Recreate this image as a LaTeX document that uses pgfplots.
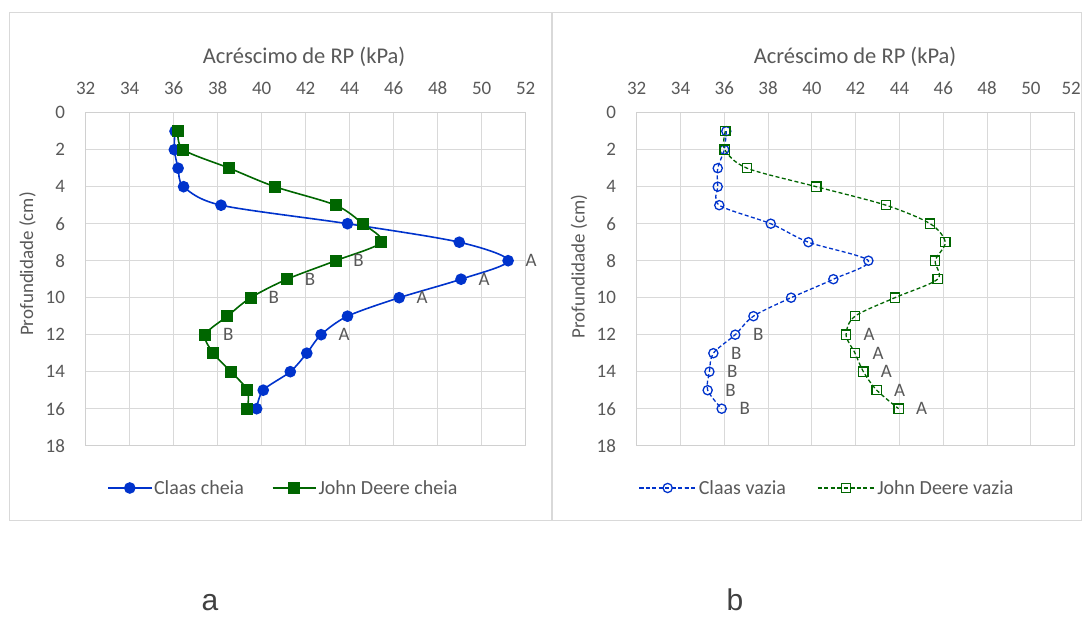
\documentclass[border=0pt]{standalone}
\usepackage{fontspec}
\setmainfont{Carlito}
\newfontfamily\arialf{Liberation Sans}
\usepackage{pgfplots}
\pgfplotsset{compat=1.18}
\definecolor{cblue}{HTML}{0033CC}
\definecolor{cgreen}{HTML}{006600}
\definecolor{gridgray}{HTML}{D9D9D9}
\definecolor{axgray}{HTML}{D0D0D0}
\definecolor{framegray}{HTML}{D9D9D9}
\definecolor{txtgray}{HTML}{595959}
\definecolor{capgray}{HTML}{404040}
\tikzset{lab/.style={font=\fontsize{19}{22}\selectfont, text=txtgray, anchor=center, xshift=23pt}}
\pgfplotsset{
  common/.style={
    anchor=south west, scale only axis, height=333pt,
    xmin=32, xmax=52, ymin=0, ymax=18, y dir=reverse,
    xtick={32,34,...,52}, ytick={0,2,...,18},
    xticklabel pos=upper,
    grid=major, major grid style={draw=gridgray, line width=1pt},
    axis line style={draw=axgray, line width=1pt},
    major tick length=0pt, tick style={draw=none},
    tick label style={font=\fontsize{19}{22}\selectfont, text=txtgray, inner sep=0pt},
    xticklabel style={anchor=center, yshift=24.7pt},
    yticklabel style={anchor=east, xshift=-20.5pt},
    /pgf/number format/assume math mode=true,
    clip=false,
    legend cell align=left,
  },
}
\begin{document}
\begin{tikzpicture}
\path[fill=white, use as bounding box] (0pt,0pt) rectangle (1082pt,617pt);
\draw[framegray, line width=1pt] (9.5pt,96pt) rectangle (551pt,604pt);
\draw[framegray, line width=1pt] (552pt,96pt) rectangle (1081.5pt,604pt);

\begin{axis}[common, at={(85.7pt,171.3pt)}, width=440pt,
  legend image code/.code={\draw[mark repeat=2,mark phase=2,#1] plot coordinates {(0pt,0pt) (21.5pt,0pt) (43pt,0pt)};},
  legend style={at={(0.4495,-0.127)}, anchor=center, draw=none, fill=none,
    font=\fontsize{20}{24}\selectfont, text=txtgray, legend columns=2,
    /tikz/every even column/.append style={column sep=26pt}}]
\addplot[smooth, color=cblue, line width=1.6pt, mark=*, mark size=5pt, mark options={fill=cblue, draw=cblue}]
coordinates {(36.06,1) (36.03,2) (36.2,3) (36.45,4) (38.15,5) (43.9,6) (48.98,7) (51.2,8) (49.06,9) (46.25,10) (43.9,11) (42.7,12) (42.05,13) (41.3,14) (40.07,15) (39.77,16)};
\addlegendentry{Claas cheia}
\addplot[smooth, color=cgreen, line width=1.6pt, mark=square*, mark size=5.2pt, mark options={fill=cgreen, draw=cgreen}]
coordinates {(36.2,1) (36.44,2) (38.53,3) (40.6,4) (43.36,5) (44.59,6) (45.44,7) (43.36,8) (41.15,9) (39.5,10) (38.44,11) (37.44,12) (37.8,13) (38.6,14) (39.35,15) (39.35,16)};
\addlegendentry{John Deere cheia}
\node[lab] at (axis cs:51.2,8) {A};
\node[lab] at (axis cs:49.06,9) {A};
\node[lab] at (axis cs:46.25,10) {A};
\node[lab] at (axis cs:42.7,12) {A};
\node[lab] at (axis cs:43.36,8) {B};
\node[lab] at (axis cs:41.15,9) {B};
\node[lab] at (axis cs:39.5,10) {B};
\node[lab] at (axis cs:37.44,12) {B};
\end{axis}

\begin{axis}[common, at={(636.7pt,171.3pt)}, width=438pt,
  xticklabels={32,34,36,38,40,42,44,46,48,50,\hspace*{-7pt}52},
  legend image code/.code={\draw[mark repeat=2,mark phase=2,#1] plot coordinates {(0pt,0pt) (28.5pt,0pt) (57pt,0pt)};},
  legend style={at={(0.4345,-0.127)}, anchor=center, draw=none, fill=none,
    font=\fontsize{20}{24}\selectfont, text=txtgray, legend columns=2,
    /tikz/every even column/.append style={column sep=29pt}}]
\addplot[smooth, color=cblue, line width=1.3pt, dash pattern=on 4pt off 2.5pt, mark=o, mark size=4.6pt, mark options={solid, draw=cblue, line width=1.3pt}]
coordinates {(36.09,1) (36.0,2) (35.7,3) (35.7,4) (35.77,5) (38.12,6) (39.84,7) (42.58,8) (40.98,9) (39.05,10) (37.33,11) (36.5,12) (35.5,13) (35.32,14) (35.24,15) (35.88,16)};
\addlegendentry{Claas vazia}
\addplot[smooth, color=cgreen, line width=1.3pt, dash pattern=on 4pt off 2.5pt, mark=square, mark size=4.6pt, mark options={solid, draw=cgreen, line width=1.3pt}]
coordinates {(36.05,1) (36.02,2) (37.04,3) (40.2,4) (43.38,5) (45.4,6) (46.09,7) (45.63,8) (45.74,9) (43.79,10) (41.97,11) (41.56,12) (41.97,13) (42.35,14) (42.96,15) (43.96,16)};
\addlegendentry{John Deere vazia}
\node[lab] at (axis cs:36.5,12) {B};
\node[lab] at (axis cs:35.5,13) {B};
\node[lab] at (axis cs:35.32,14) {B};
\node[lab] at (axis cs:35.24,15) {B};
\node[lab] at (axis cs:35.88,16) {B};
\node[lab] at (axis cs:41.56,12) {A};
\node[lab] at (axis cs:41.97,13) {A};
\node[lab] at (axis cs:42.35,14) {A};
\node[lab] at (axis cs:42.96,15) {A};
\node[lab] at (axis cs:43.96,16) {A};
\end{axis}

\node[font=\fontsize{22.5}{26}\selectfont, text=txtgray] at (304pt,560pt) {Acréscimo de RP (kPa)};
\node[font=\fontsize{22.5}{26}\selectfont, text=txtgray] at (855pt,560pt) {Acréscimo de RP (kPa)};
\node[font=\fontsize{19}{22}\selectfont, text=txtgray, rotate=90] at (27.5pt,353pt) {Profundidade (cm)};
\node[font=\fontsize{19}{22}\selectfont, text=txtgray, rotate=90] at (579pt,350.5pt) {Profundidade (cm)};
\node[font=\arialf\fontsize{30}{34}\selectfont, text=capgray, inner sep=0pt, anchor=base] at (210pt,6pt) {a};
\node[font=\arialf\fontsize{30}{34}\selectfont, text=capgray, inner sep=0pt, anchor=base] at (735pt,6pt) {b};
\end{tikzpicture}
\end{document}
